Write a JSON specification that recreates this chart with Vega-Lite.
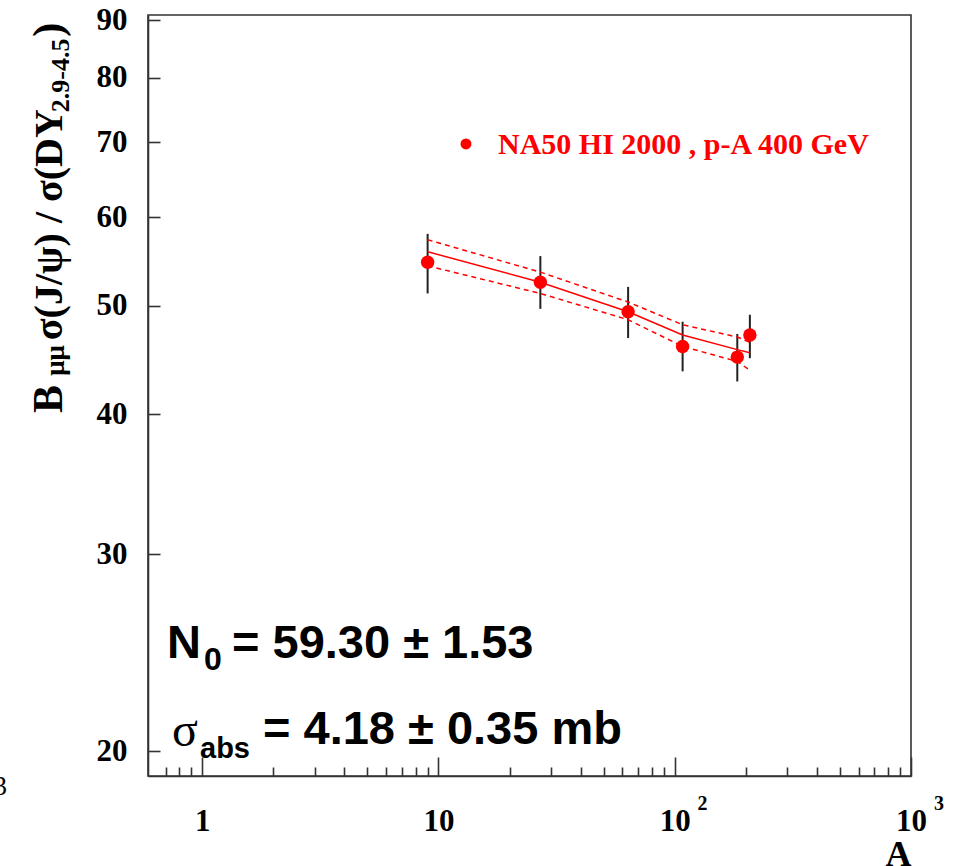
{
  "$schema": "https://vega.github.io/schema/vega-lite/v6.json",
  "width": 763,
  "height": 761,
  "autosize": {"type": "none"},
  "padding": {"left": 148, "top": 15, "right": 47, "bottom": 90},
  "background": "white",
  "config": {"font": "Liberation Serif", "view": {"stroke": "#333333", "strokeWidth": 1.6}},
  "datasets": {
    "pts": [
      {"A": 9, "R": 54.7, "lo": 51.3, "hi": 58.0},
      {"A": 27, "R": 52.5, "lo": 49.7, "hi": 55.4},
      {"A": 63.5, "R": 49.4, "lo": 46.8, "hi": 52.0},
      {"A": 108, "R": 46.0, "lo": 43.7, "hi": 48.4},
      {"A": 184, "R": 45.0, "lo": 42.8, "hi": 47.2},
      {"A": 208, "R": 47.1, "lo": 44.9, "hi": 49.1}
    ],
    "fit": [
      {"A": 9, "fit": 55.9, "up": 57.3, "dn": 54.3},
      {"A": 27, "fit": 52.5, "up": 53.6, "dn": 51.3},
      {"A": 63.5, "fit": 49.4, "up": 50.4, "dn": 48.6},
      {"A": 108, "fit": 47.1, "up": 48.1, "dn": 46.0},
      {"A": 184, "fit": 45.7, "up": 46.9, "dn": 44.6},
      {"A": 208, "fit": 45.4, "up": 46.4, "dn": 43.8}
    ]
  },
  "resolve": {"axis": {"x": "independent"}},
  "layer": [
    {
      "data": {"name": "pts"},
      "mark": {"type": "rule", "color": "#222222", "strokeWidth": 2},
      "encoding": {
        "x": {"field": "A", "type": "quantitative", "title": "A",
          "scale": {"type": "log", "domain": [0.59, 1000], "nice": false},
          "axis": {"orient": "bottom", "values": [1, 10, 100, 1000], "tickSize": -19, "tickWidth": 1.6, "tickColor": "#333333",
            "domainColor": "#333333", "domainWidth": 1.6, "grid": false,
            "labelExpr": "datum.value >= 100 ? '10' : '' + datum.value",
            "labelFont": "Liberation Serif", "labelFontWeight": "bold", "labelFontSize": 31, "labelColor": "#000000",
            "labelPadding": 49, "labelFlush": false, "labelOverlap": false,
            "titleFont": "Liberation Serif", "titleFontWeight": "bold", "titleFontSize": 36, "titleColor": "#000000",
            "titleAnchor": "end", "titlePadding": 1}},
        "y": {"field": "lo", "type": "quantitative", "title": null,
          "scale": {"type": "log", "domain": [19, 91], "nice": false},
          "axis": {"orient": "left", "values": [20, 30, 40, 50, 60, 70, 80, 90], "tickSize": -12, "tickWidth": 1.6, "tickColor": "#333333",
            "domainColor": "#333333", "domainWidth": 1.6, "grid": false,
            "labelFont": "Liberation Serif", "labelFontWeight": "bold", "labelFontSize": 31, "labelColor": "#000000",
            "labelPadding": 33, "labelFlush": false, "labelOverlap": false}},
        "y2": {"field": "hi"}
      }
    },
    {
      "data": {"name": "fit"},
      "mark": {"type": "line", "color": "#ff0000", "strokeWidth": 1.5},
      "encoding": {
        "x": {"field": "A", "type": "quantitative", "title": null,
          "scale": {"type": "log", "domain": [0.59, 1000], "nice": false},
          "axis": {"orient": "bottom", "values": [0.7, 0.8, 0.9, 2, 3, 4, 5, 6, 7, 8, 9, 20, 30, 40, 50, 60, 70, 80, 90, 200, 300, 400, 500, 600, 700, 800, 900],
            "tickSize": -9, "tickWidth": 1.6, "tickColor": "#333333", "labels": false, "domain": false, "grid": false}},
        "y": {"field": "fit", "type": "quantitative", "title": null, "scale": {"type": "log", "domain": [19, 91], "nice": false}}
      }
    },
    {
      "data": {"name": "fit"},
      "mark": {"type": "line", "color": "#ff0000", "strokeWidth": 1.5, "strokeDash": [5, 4]},
      "encoding": {
        "x": {"field": "A", "type": "quantitative", "axis": null, "scale": {"type": "log", "domain": [0.59, 1000], "nice": false}},
        "y": {"field": "up", "type": "quantitative", "title": null, "scale": {"type": "log", "domain": [19, 91], "nice": false}}
      }
    },
    {
      "data": {"name": "fit"},
      "mark": {"type": "line", "color": "#ff0000", "strokeWidth": 1.5, "strokeDash": [5, 4]},
      "encoding": {
        "x": {"field": "A", "type": "quantitative", "axis": null, "scale": {"type": "log", "domain": [0.59, 1000], "nice": false}},
        "y": {"field": "dn", "type": "quantitative", "title": null, "scale": {"type": "log", "domain": [19, 91], "nice": false}}
      }
    },
    {
      "data": {"name": "pts"},
      "mark": {"type": "circle", "color": "#ff0000", "size": 180, "opacity": 1},
      "encoding": {
        "x": {"field": "A", "type": "quantitative", "axis": null, "scale": {"type": "log", "domain": [0.59, 1000], "nice": false}},
        "y": {"field": "R", "type": "quantitative", "title": null, "scale": {"type": "log", "domain": [19, 91], "nice": false}}
      }
    },
    {
      "data": {"values": [{}]},
      "mark": {"type": "circle", "color": "#ff0000", "size": 120, "opacity": 1},
      "encoding": {
        "x": {"datum": 13.08, "type": "quantitative", "axis": null, "scale": {"type": "log", "domain": [0.59, 1000], "nice": false}},
        "y": {"datum": 69.78, "type": "quantitative", "title": null, "scale": {"type": "log", "domain": [19, 91], "nice": false}}
      }
    },
    {
      "data": {"values": [{}]},
      "mark": {"type": "text", "text": "NA50 HI 2000 , p-A 400 GeV", "font": "Liberation Serif", "fontWeight": "bold", "fontSize": 30, "color": "#ff0000", "align": "left", "baseline": "alphabetic"},
      "encoding": {
        "x": {"datum": 17.87, "type": "quantitative", "axis": null, "scale": {"type": "log", "domain": [0.59, 1000], "nice": false}},
        "y": {"datum": 68.36, "type": "quantitative", "title": null, "scale": {"type": "log", "domain": [19, 91], "nice": false}}
      }
    },
    {
      "data": {"values": [{}]},
      "mark": {"type": "text", "text": "N", "font": "Liberation Sans", "fontWeight": "bold", "fontSize": 47, "color": "#000000", "align": "left", "baseline": "alphabetic"},
      "encoding": {
        "x": {"datum": 0.7097, "type": "quantitative", "axis": null, "scale": {"type": "log", "domain": [0.59, 1000], "nice": false}},
        "y": {"datum": 24.22, "type": "quantitative", "title": null, "scale": {"type": "log", "domain": [19, 91], "nice": false}}
      }
    },
    {
      "data": {"values": [{}]},
      "mark": {"type": "text", "text": "0", "font": "Liberation Sans", "fontWeight": "bold", "fontSize": 32, "color": "#000000", "align": "left", "baseline": "alphabetic"},
      "encoding": {
        "x": {"datum": 1.018, "type": "quantitative", "axis": null, "scale": {"type": "log", "domain": [0.59, 1000], "nice": false}},
        "y": {"datum": 23.63, "type": "quantitative", "title": null, "scale": {"type": "log", "domain": [19, 91], "nice": false}}
      }
    },
    {
      "data": {"values": [{}]},
      "mark": {"type": "text", "text": "= 59.30 ± 1.53", "font": "Liberation Sans", "fontWeight": "bold", "fontSize": 47, "color": "#000000", "align": "left", "baseline": "alphabetic"},
      "encoding": {
        "x": {"datum": 1.3377, "type": "quantitative", "axis": null, "scale": {"type": "log", "domain": [0.59, 1000], "nice": false}},
        "y": {"datum": 24.22, "type": "quantitative", "title": null, "scale": {"type": "log", "domain": [19, 91], "nice": false}}
      }
    },
    {
      "data": {"values": [{}]},
      "mark": {"type": "text", "text": "σ", "font": "Liberation Serif", "fontSize": 48, "color": "#000000", "align": "left", "baseline": "alphabetic"},
      "encoding": {
        "x": {"datum": 0.7455, "type": "quantitative", "axis": null, "scale": {"type": "log", "domain": [0.59, 1000], "nice": false}},
        "y": {"datum": 20.21, "type": "quantitative", "title": null, "scale": {"type": "log", "domain": [19, 91], "nice": false}}
      }
    },
    {
      "data": {"values": [{}]},
      "mark": {"type": "text", "text": "abs", "font": "Liberation Sans", "fontWeight": "bold", "fontSize": 29, "color": "#000000", "align": "left", "baseline": "alphabetic"},
      "encoding": {
        "x": {"datum": 0.9793, "type": "quantitative", "axis": null, "scale": {"type": "log", "domain": [0.59, 1000], "nice": false}},
        "y": {"datum": 19.72, "type": "quantitative", "title": null, "scale": {"type": "log", "domain": [19, 91], "nice": false}}
      }
    },
    {
      "data": {"values": [{}]},
      "mark": {"type": "text", "text": "= 4.18 ± 0.35 mb", "font": "Liberation Sans", "fontWeight": "bold", "fontSize": 47, "color": "#000000", "align": "left", "baseline": "alphabetic"},
      "encoding": {
        "x": {"datum": 1.8096, "type": "quantitative", "axis": null, "scale": {"type": "log", "domain": [0.59, 1000], "nice": false}},
        "y": {"datum": 20.29, "type": "quantitative", "title": null, "scale": {"type": "log", "domain": [19, 91], "nice": false}}
      }
    },
    {
      "data": {"values": [{}]},
      "mark": {"type": "text", "text": "B", "font": "Liberation Serif", "fontWeight": "bold", "fontSize": 42, "color": "#000000", "align": "left", "baseline": "alphabetic", "angle": 270},
      "encoding": {
        "x": {"datum": 0.2553, "type": "quantitative", "axis": null, "scale": {"type": "log", "domain": [0.59, 1000], "nice": false}},
        "y": {"datum": 40.1, "type": "quantitative", "title": null, "scale": {"type": "log", "domain": [19, 91], "nice": false}}
      }
    },
    {
      "data": {"values": [{}]},
      "mark": {"type": "text", "text": "μμ", "font": "Liberation Serif", "fontWeight": "bold", "fontSize": 27, "color": "#000000", "align": "left", "baseline": "alphabetic", "angle": 270},
      "encoding": {
        "x": {"datum": 0.2607, "type": "quantitative", "axis": null, "scale": {"type": "log", "domain": [0.59, 1000], "nice": false}},
        "y": {"datum": 43.3, "type": "quantitative", "title": null, "scale": {"type": "log", "domain": [19, 91], "nice": false}}
      }
    },
    {
      "data": {"values": [{}]},
      "mark": {"type": "text", "text": "σ(J/ψ) / σ(DY", "font": "Liberation Serif", "fontWeight": "bold", "fontSize": 40, "color": "#000000", "align": "left", "baseline": "alphabetic", "angle": 270},
      "encoding": {
        "x": {"datum": 0.2553, "type": "quantitative", "axis": null, "scale": {"type": "log", "domain": [0.59, 1000], "nice": false}},
        "y": {"datum": 46.6, "type": "quantitative", "title": null, "scale": {"type": "log", "domain": [19, 91], "nice": false}}
      }
    },
    {
      "data": {"values": [{}]},
      "mark": {"type": "text", "text": "2.9-4.5", "font": "Liberation Serif", "fontWeight": "bold", "fontSize": 26, "color": "#000000", "align": "left", "baseline": "alphabetic", "angle": 270},
      "encoding": {
        "x": {"datum": 0.2734, "type": "quantitative", "axis": null, "scale": {"type": "log", "domain": [0.59, 1000], "nice": false}},
        "y": {"datum": 74.5, "type": "quantitative", "title": null, "scale": {"type": "log", "domain": [19, 91], "nice": false}}
      }
    },
    {
      "data": {"values": [{}]},
      "mark": {"type": "text", "text": ")", "font": "Liberation Serif", "fontWeight": "bold", "fontSize": 42, "color": "#000000", "align": "left", "baseline": "alphabetic", "angle": 270},
      "encoding": {
        "x": {"datum": 0.2553, "type": "quantitative", "axis": null, "scale": {"type": "log", "domain": [0.59, 1000], "nice": false}},
        "y": {"datum": 87.0, "type": "quantitative", "title": null, "scale": {"type": "log", "domain": [19, 91], "nice": false}}
      }
    },
    {
      "data": {"values": [{}]},
      "mark": {"type": "text", "text": "2", "font": "Liberation Serif", "fontWeight": "bold", "fontSize": 20, "color": "#000000", "align": "left", "baseline": "alphabetic"},
      "encoding": {
        "x": {"datum": 125, "type": "quantitative", "axis": null, "scale": {"type": "log", "domain": [0.59, 1000], "nice": false}},
        "y": {"datum": 17.71, "type": "quantitative", "title": null, "scale": {"type": "log", "domain": [19, 91], "nice": false}}
      }
    },
    {
      "data": {"values": [{}]},
      "mark": {"type": "text", "text": "3", "font": "Liberation Serif", "fontWeight": "bold", "fontSize": 20, "color": "#000000", "align": "left", "baseline": "alphabetic"},
      "encoding": {
        "x": {"datum": 1250, "type": "quantitative", "axis": null, "scale": {"type": "log", "domain": [0.59, 1000], "nice": false}},
        "y": {"datum": 17.71, "type": "quantitative", "title": null, "scale": {"type": "log", "domain": [19, 91], "nice": false}}
      }
    },
    {
      "data": {"values": [{}]},
      "mark": {"type": "text", "text": "3", "font": "Liberation Serif", "fontSize": 27, "color": "#000000", "align": "right", "baseline": "alphabetic"},
      "encoding": {
        "x": {"datum": 0.1493, "type": "quantitative", "axis": null, "scale": {"type": "log", "domain": [0.59, 1000], "nice": false}},
        "y": {"datum": 18.27, "type": "quantitative", "title": null, "scale": {"type": "log", "domain": [19, 91], "nice": false}}
      }
    }
  ]
}
